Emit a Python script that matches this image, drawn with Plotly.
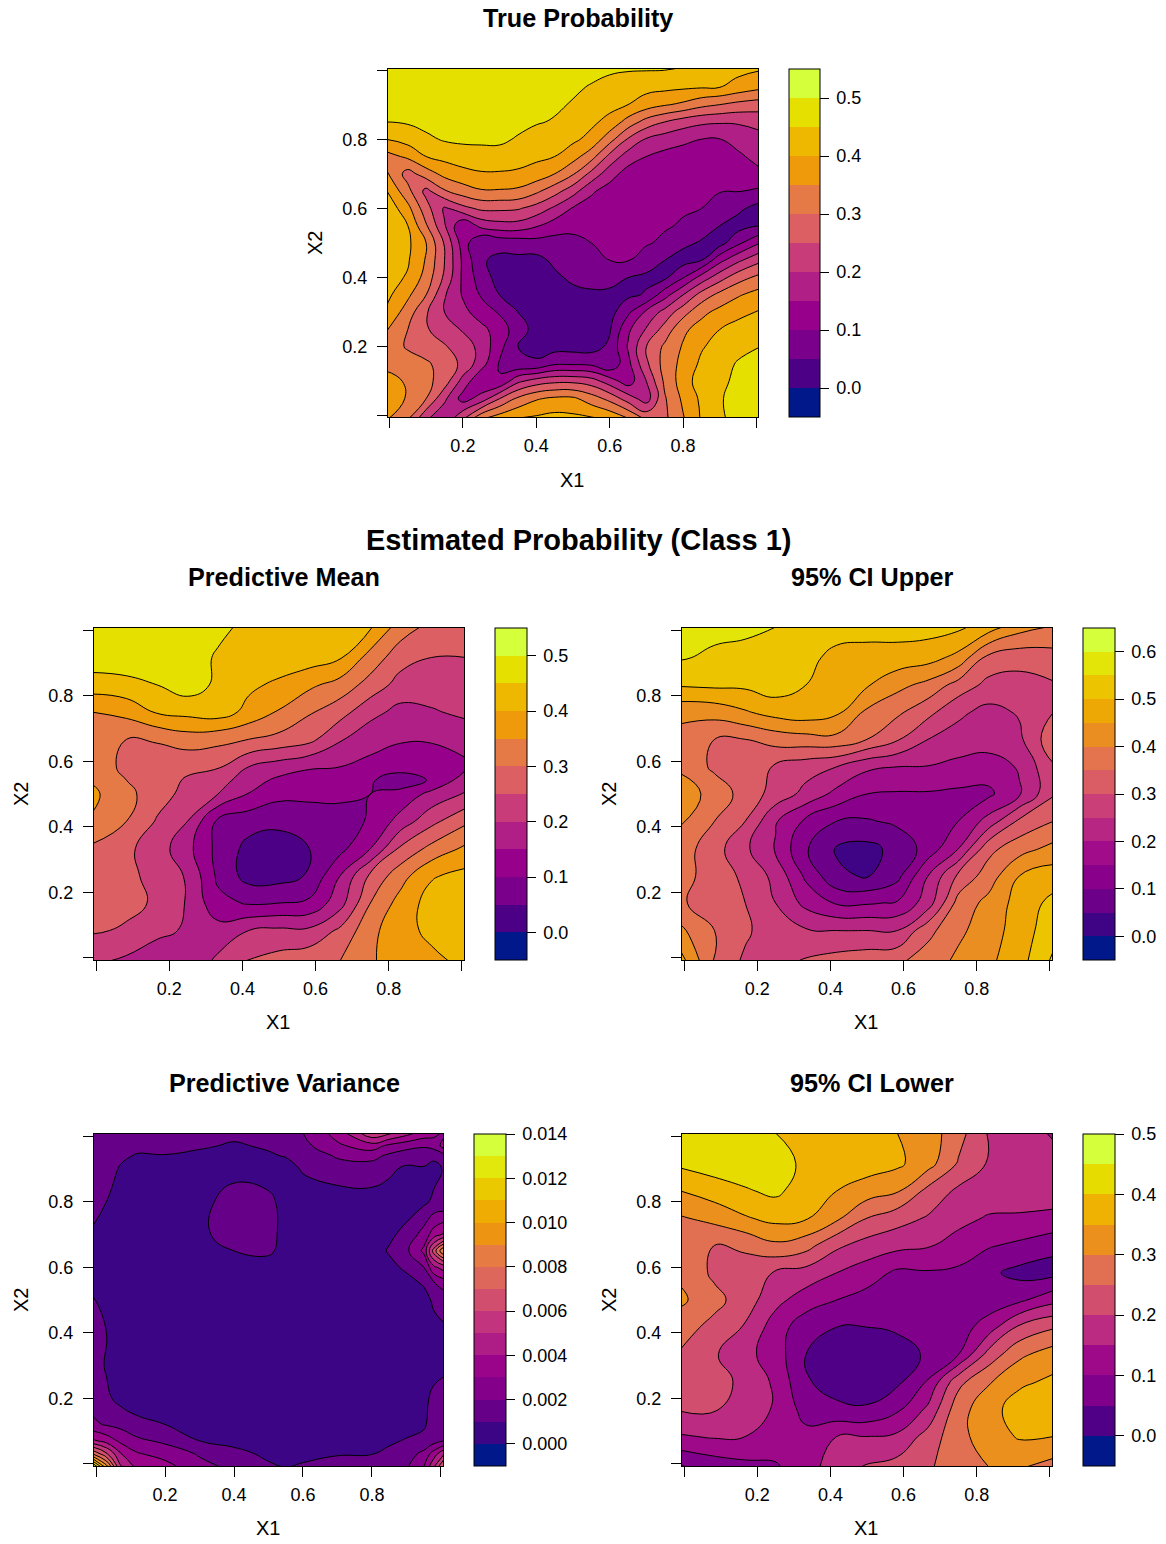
import plotly.graph_objects as go
from plotly.colors import sample_colorscale

W, H = 1166, 1544
GRID13 = [-0.01, 0.083, 0.167, 0.25, 0.333, 0.417, 0.5, 0.583, 0.667, 0.75, 0.833, 0.917, 1.01]
GRID21 = [-0.01,.05,.1,.15,.2,.25,.3,.35,.4,.45,.5,.55,.6,.65,.7,.75,.8,.85,.9,.95,1.01]
MEAN_Y = [-0.01, 0.083, 0.167, 0.25, 0.333, 0.417, 0.5, 0.542, 0.583, 0.667, 0.75, 0.833, 0.917, 1.01]

TRUE_PROB = [
 [.355,.30,.205,.16,.25,.35,.385,.405,.412,.42,.415,.41,.395,.36,.295,.29,.345,.405,.44,.47,.49],
 [.38,.345,.30,.21,.13,.17,.25,.31,.345,.36,.36,.325,.285,.225,.175,.295,.36,.41,.445,.47,.485],
 [.365,.345,.315,.275,.18,.105,.105,.19,.225,.24,.24,.225,.175,.125,.20,.31,.375,.425,.44,.46,.475],
 [.34,.32,.31,.275,.24,.17,.095,.06,.06,.095,.095,.09,.06,.135,.24,.32,.365,.41,.43,.455,.47],
 [.325,.295,.27,.255,.225,.185,.115,.05,.03,.03,.03,.03,.06,.155,.25,.31,.355,.395,.42,.435,.45],
 [.355,.30,.255,.225,.195,.165,.125,.075,.03,.02,.015,.02,.045,.14,.205,.27,.34,.37,.40,.42,.435],
 [.395,.325,.255,.20,.165,.125,.095,.05,.02,.02,.02,.02,.03,.09,.16,.218,.28,.337,.365,.385,.405],
 [.415,.36,.30,.205,.145,.095,.05,.03,.02,.02,.035,.04,.04,.04,.055,.13,.20,.27,.315,.345,.37],
 [.42,.395,.33,.24,.14,.075,.03,.025,.03,.04,.06,.07,.065,.05,.04,.04,.098,.17,.23,.28,.315],
 [.44,.405,.345,.25,.14,.055,.04,.04,.035,.06,.07,.085,.10,.102,.075,.05,.03,.05,.135,.19,.24],
 [.445,.41,.35,.245,.125,.05,.065,.07,.08,.08,.09,.10,.112,.11,.105,.09,.06,.045,.03,.09,.15],
 [.445,.40,.305,.205,.105,.165,.18,.18,.155,.125,.11,.112,.11,.105,.105,.105,.095,.07,.05,.03,.05],
 [.44,.365,.27,.19,.235,.26,.26,.255,.23,.19,.145,.13,.125,.12,.115,.11,.105,.10,.08,.06,.03],
 [.405,.315,.235,.295,.325,.345,.345,.34,.31,.27,.22,.157,.13,.115,.11,.105,.105,.102,.102,.102,.09],
 [.36,.28,.325,.365,.385,.395,.395,.39,.38,.35,.305,.235,.17,.13,.125,.12,.115,.115,.115,.125,.14],
 [.33,.36,.40,.415,.425,.43,.43,.425,.41,.40,.37,.32,.235,.175,.15,.135,.13,.13,.13,.14,.17],
 [.40,.42,.44,.455,.46,.46,.46,.445,.425,.415,.41,.385,.32,.245,.195,.175,.16,.15,.149,.17,.185],
 [.45,.455,.465,.47,.47,.47,.47,.465,.455,.445,.42,.41,.385,.33,.28,.25,.225,.21,.205,.205,.215],
 [.47,.475,.475,.475,.475,.475,.475,.47,.465,.46,.445,.43,.415,.40,.375,.355,.34,.315,.30,.285,.275],
 [.485,.485,.485,.485,.485,.485,.48,.48,.475,.47,.46,.445,.435,.425,.415,.412,.407,.403,.40,.38,.36],
 [.49,.49,.49,.49,.49,.49,.49,.49,.49,.49,.485,.472,.46,.458,.459,.458,.451,.44,.43,.42,.41],
]
PRED_MEAN = [
 [.21,.19,.175,.165,.21,.255,.27,.285,.30,.345,.37,.39,.41],
 [.255,.245,.21,.195,.17,.20,.21,.21,.26,.335,.385,.41,.43],
 [.27,.26,.245,.195,.115,.095,.10,.11,.18,.30,.37,.42,.43],
 [.275,.265,.23,.195,.09,.03,.03,.055,.15,.26,.33,.395,.415],
 [.29,.26,.225,.165,.085,.035,.03,.05,.085,.15,.26,.315,.36],
 [.345,.30,.245,.20,.09,.07,.06,.065,.08,.105,.17,.235,.29],
 [.36,.315,.27,.235,.20,.148,.115,.115,.11,.10,.115,.165,.205],
 [.345,.30,.27,.245,.225,.17,.14,.13,.125,.105,.075,.105,.175],
 [.335,.285,.27,.26,.255,.20,.175,.155,.15,.135,.12,.12,.14],
 [.33,.30,.305,.325,.315,.30,.285,.265,.205,.17,.155,.155,.17],
 [.35,.365,.405,.415,.425,.385,.345,.305,.27,.215,.185,.195,.21],
 [.425,.435,.45,.475,.44,.41,.39,.36,.33,.28,.23,.225,.225],
 [.48,.48,.48,.47,.445,.435,.43,.425,.405,.33,.27,.25,.25],
 [.48,.48,.48,.48,.46,.44,.43,.425,.415,.405,.325,.285,.27],
]
CI_UPPER = [
 [.47,.345,.29,.285,.305,.32,.33,.34,.375,.41,.44,.48,.56],
 [.41,.35,.31,.265,.255,.25,.25,.25,.335,.39,.425,.475,.53],
 [.36,.31,.30,.25,.185,.145,.145,.155,.225,.37,.415,.47,.515],
 [.37,.325,.29,.235,.14,.06,.045,.085,.20,.31,.375,.45,.475],
 [.375,.32,.26,.195,.105,.045,.035,.065,.12,.20,.335,.38,.415],
 [.405,.35,.30,.205,.14,.10,.095,.11,.12,.15,.22,.31,.35],
 [.43,.38,.33,.28,.235,.185,.15,.145,.145,.14,.14,.195,.295],
 [.39,.34,.32,.295,.27,.25,.21,.20,.198,.185,.175,.205,.295],
 [.38,.35,.35,.37,.38,.385,.35,.305,.25,.23,.225,.24,.335],
 [.415,.42,.445,.47,.48,.46,.39,.36,.315,.26,.235,.255,.30],
 [.505,.51,.51,.525,.50,.48,.455,.415,.385,.33,.285,.28,.295],
 [.555,.54,.535,.53,.51,.49,.49,.48,.47,.435,.335,.32,.33],
 [.575,.565,.56,.55,.53,.515,.51,.52,.52,.51,.475,.42,.395],
]
CI_LOWER = [
 [.045,.07,.085,.095,.125,.18,.205,.22,.245,.27,.30,.305,.28],
 [.145,.155,.15,.125,.115,.15,.15,.16,.22,.285,.325,.355,.35],
 [.205,.205,.175,.145,.08,.06,.055,.09,.16,.28,.33,.375,.385],
 [.235,.215,.19,.14,.055,.03,.025,.04,.105,.235,.295,.34,.36],
 [.245,.205,.165,.125,.05,.03,.025,.035,.055,.10,.22,.29,.325],
 [.27,.235,.195,.125,.07,.05,.05,.055,.07,.075,.125,.21,.245],
 [.31,.265,.225,.165,.125,.10,.08,.07,.075,.075,.07,.09,.135],
 [.29,.24,.225,.195,.18,.15,.125,.09,.095,.09,.06,.035,.035],
 [.29,.25,.26,.29,.27,.21,.18,.165,.155,.13,.105,.09,.06],
 [.295,.315,.345,.365,.355,.31,.25,.22,.195,.165,.145,.145,.145],
 [.35,.375,.395,.41,.375,.35,.325,.305,.235,.19,.18,.17,.16],
 [.41,.425,.43,.43,.385,.38,.375,.36,.32,.245,.195,.17,.165],
 [.44,.435,.43,.40,.39,.385,.37,.35,.325,.27,.195,.17,.145],
]
VAR_X = [-0.01,.03,.07,.12,.2,.3,.4,.5,.55,.6,.7,.8,.85,.9,.95,.98,1.01]
VAR_Y = [-0.01,.03,.07,.12,.2,.3,.4,.5,.55,.6,.65,.7,.8,.9,.94,.97,1.01]
PRED_VAR = [
 [.0135,.0095,.0052,.0037,.0034,.0023,.0018,.00115,.0010,.0011,.0013,.0013,.0015,.0019,.0030,.0050,.0075],
 [.0080,.0062,.0041,.0031,.0026,.0019,.0013,.0008,.0007,.0008,.00095,.00098,.0013,.0015,.0023,.0035,.0050],
 [.0042,.0036,.0028,.0022,.0018,.0010,.0007,.0005,.0004,.0004,.0006,.0006,.0008,.0011,.0012,.0016,.0020],
 [.0022,.0019,.0017,.0013,.0010,.0006,.0004,.0003,.0003,.0002,.0003,.0003,.0004,.0005,.0009,.0013,.0016],
 [.0016,.0012,.0007,.0004,.0004,.0003,.0002,.0002,.0002,.0002,.0002,.0002,.0002,.0003,.0008,.0012,.0014],
 [.0015,.0009,.0004,.0003,.0003,.0003,.0002,.0002,.0002,.0002,.0002,.0002,.0002,.0002,.0004,.0007,.0008],
 [.0014,.0010,.0004,.0003,.0003,.0003,.0002,.0002,.0002,.0002,.0002,.0002,.0002,.0002,.0003,.0006,.0008],
 [.0011,.0006,.0003,.0003,.0003,.0003,.0002,.0002,.0002,.0002,.0002,.0002,.0002,.0003,.0006,.0012,.0015],
 [.0006,.0005,.0003,.0003,.0003,.0003,.0002,.0003,.0002,.0002,.0002,.0002,.0003,.0006,.0011,.0019,.0024],
 [.0006,.0005,.0003,.0003,.0003,.0003,.0003,.0005,.0003,.0002,.0003,.0004,.0007,.0012,.0020,.0038,.0045],
 [.0007,.0006,.0003,.0003,.0003,.0004,.0010,.0012,.0006,.0003,.0003,.0005,.0011,.0018,.0032,.0065,.0092],
 [.0009,.0006,.0004,.0003,.0003,.0008,.0014,.0014,.0006,.0003,.0003,.0004,.0008,.0013,.0024,.0035,.0042],
 [.0013,.0010,.0007,.0004,.0003,.0007,.0014,.0012,.0007,.0004,.0004,.0006,.0005,.0005,.0008,.0012,.0011],
 [.0017,.0015,.0009,.0007,.0007,.0008,.0007,.0006,.0006,.0011,.0016,.0015,.0012,.0008,.0009,.0007,.0011],
 [.0017,.0016,.0012,.0009,.00095,.0008,.0008,.0009,.00105,.0014,.0021,.0023,.0018,.0015,.0014,.0012,.0017],
 [.0017,.0017,.0015,.0013,.0013,.0011,.0009,.0011,.0012,.0017,.0028,.0035,.0027,.0023,.0021,.0024,.0034],
 [.0018,.0018,.0017,.0017,.0016,.0015,.0012,.0013,.0015,.0020,.0034,.0058,.0052,.0044,.0036,.0033,.0028],
]

PALETTE = ["#001889","#4B0085","#7A008B","#96008B","#B01F85","#C93C7A",
           "#DB5F63","#E57A47","#EE9A0A","#EFB800","#E6E000","#D4FF3A"]
XY_TICKS = [0, .2, .4, .6, .8, 1]
XY_TEXT = ["", "0.2", "0.4", "0.6", "0.8", ""]
FONT = "Liberation Sans"
TICK_SIZE = 18

def band_colors(n):
    return sample_colorscale(PALETTE, [i/(n-1) for i in range(n)])

def stepped(n):
    cols = band_colors(n)
    out = []
    for i, c in enumerate(cols):
        out += [[i/n, c], [(i+1)/n, c]]
    return out

panels = [
 dict(z=TRUE_PROB, x=GRID21, y=GRID21, box=(388,758,69,417), key=(789,820), start=-.05, end=.55, size=.05,
      cb=[0,.1,.2,.3,.4,.5], fmt="%.1f", xr=(-.004,1.004), yr=(-.003,1.003), xlab=572, xlaby=480, ylabx=315),
 dict(z=PRED_MEAN, x=GRID13, y=MEAN_Y, box=(94,464,628,960), key=(495,527), start=-.05, end=.55, size=.05,
      cb=[0,.1,.2,.3,.4,.5], fmt="%.1f", xr=(-.006,1.006), yr=(-.007,1.007), xlab=278, xlaby=1022, ylabx=21),
 dict(z=CI_UPPER, x=GRID13, y=GRID13, box=(682,1052,628,960), key=(1083,1115), start=-.05, end=.65, size=.05,
      cb=[0,.1,.2,.3,.4,.5,.6], fmt="%.1f", xr=(-.006,1.006), yr=(-.007,1.007), xlab=866, xlaby=1022, ylabx=609),
 dict(z=PRED_VAR, x=VAR_X, y=VAR_Y, box=(94,443,1134,1466), key=(474,506), start=-.001, end=.014, size=.001,
      cb=[0,.002,.004,.006,.008,.010,.012,.014], fmt="%.3f", xr=(-.006,1.006), yr=(-.007,1.007), xlab=268, xlaby=1528, ylabx=21),
 dict(z=CI_LOWER, x=GRID13, y=GRID13, box=(682,1052,1134,1466), key=(1083,1115), start=-.05, end=.50, size=.05,
      cb=[0,.1,.2,.3,.4,.5], fmt="%.1f", xr=(-.006,1.006), yr=(-.007,1.007), xlab=866, xlaby=1528, ylabx=609),
]

TITLES = [("True Probability", 578, 18, 25.2), ("Estimated Probability (Class 1)", 578, 540, 29),
          ("Predictive Mean", 284, 577, 25.2), ("95% CI Upper", 872, 577, 25.2),
          ("Predictive Variance", 284, 1083, 25.2), ("95% CI Lower", 872, 1083, 25.2)]

fig = go.Figure()
layout = dict(width=W, height=H, margin=dict(l=0,r=0,t=0,b=0), paper_bgcolor="white", plot_bgcolor="white",
              font=dict(family=FONT, color="black", size=TICK_SIZE), showlegend=False, annotations=[])

for i, p in enumerate(panels):
    sfx = "" if i == 0 else str(i+1)
    l, r, t, b = p["box"]
    n = round((p["end"]-p["start"])/p["size"])
    kl, kr = p["key"]
    fig.add_trace(go.Contour(
        x=p["x"], y=p["y"], z=p["z"], xaxis="x"+sfx, yaxis="y"+sfx,
        autocontour=False, zmin=p["start"], zmax=p["end"],
        contours=dict(start=p["start"], end=p["end"], size=p["size"], coloring="fill", showlines=False),
        colorscale=stepped(n), line=dict(width=0, smoothing=1.3), hoverinfo="skip",
        colorbar=dict(x=kl/W, xanchor="left", xpad=0, y=1-t/H, yanchor="top", ypad=0,
                      len=b-t, lenmode="pixels", thickness=kr-kl, thicknessmode="pixels",
                      outlinecolor="black", outlinewidth=1, ticks="outside", ticklen=9, tickwidth=1, tickcolor="black",
                      tickmode="array", tickvals=p["cb"], ticktext=["\u2009"+p["fmt"] % v for v in p["cb"]],
                      tickfont=dict(family=FONT, size=TICK_SIZE, color="black"))))
    fig.add_trace(go.Contour(
        x=p["x"], y=p["y"], z=p["z"], xaxis="x"+sfx, yaxis="y"+sfx, showscale=False,
        autocontour=False,
        contours=dict(start=p["start"], end=p["end"], size=p["size"], coloring="none", showlines=True),
        line=dict(width=1, color="black", smoothing=1.3), hoverinfo="skip"))
    axcommon = dict(tickmode="array", tickvals=XY_TICKS, ticktext=XY_TEXT, ticks="outside", ticklen=10, tickwidth=1,
                    tickcolor="black", showgrid=False, zeroline=False, showline=True, mirror=True, linecolor="black",
                    linewidth=1, tickfont=dict(family=FONT, size=TICK_SIZE, color="black"))
    layout["xaxis"+sfx] = dict(domain=[l/W, r/W], range=list(p["xr"]), anchor="y"+sfx, ticklabelstandoff=2, **axcommon)
    layout["yaxis"+sfx] = dict(domain=[1-b/H, 1-t/H], range=list(p["yr"]), anchor="x"+sfx, tickangle=0, ticklabelstandoff=6, **axcommon)
    layout["annotations"].append(dict(text="X1", xref="paper", yref="paper", x=p["xlab"]/W, y=1-p["xlaby"]/H,
                                      xanchor="center", yanchor="middle", showarrow=False, font=dict(size=20)))
    layout["annotations"].append(dict(text="X2", xref="paper", yref="paper", x=p["ylabx"]/W, y=1-(t+b)/2/H,
                                      xanchor="center", yanchor="middle", showarrow=False, textangle=-90, font=dict(size=20)))

for text, x, y, size in TITLES:
    layout["annotations"].append(dict(text="<b>%s</b>" % text, xref="paper", yref="paper", x=x/W, y=1-y/H,
                                      xanchor="center", yanchor="middle", showarrow=False, font=dict(size=size)))
fig.update_layout(**layout)
fig.write_html("out.html", config=dict(displayModeBar=False), post_script="document.body.style.margin='0';")
